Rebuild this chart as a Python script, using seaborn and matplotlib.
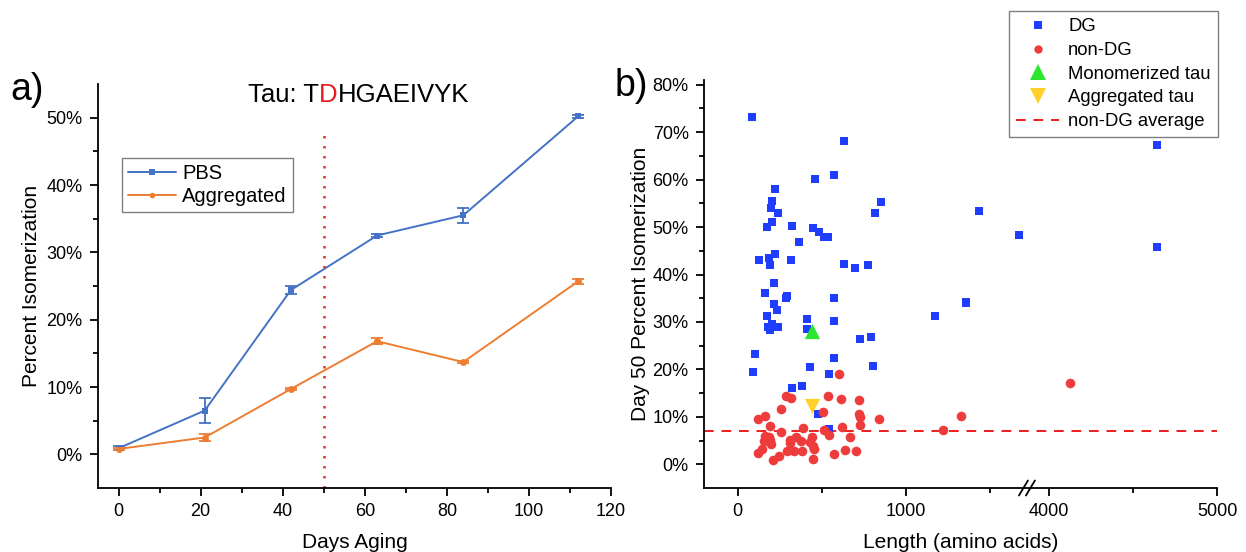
import numpy as np
import matplotlib
matplotlib.use("Agg")
import matplotlib.pyplot as plt
from matplotlib.ticker import PercentFormatter, FixedLocator, MultipleLocator, FuncFormatter
from matplotlib.lines import Line2D
import seaborn as sns

# ---- panel a) data ----
days = [0, 21, 42, 63, 84, 112]
pbs = [0.9, 6.5, 24.4, 32.5, 35.5, 50.2]
pbs_err = [0.3, 1.9, 0.6, 0.2, 1.1, 0.2]
agg = [0.8, 2.5, 9.7, 16.8, 13.7, 25.7]
agg_err = [0.2, 0.55, 0.2, 0.45, 0.2, 0.35]
cutoff_day = 50

# ---- panel b) data ----
dg_len = [83, 631, 460, 571, 220, 202, 196, 240, 855, 819, 204, 175, 323, 448, 482,
          512, 540, 367, 129, 186, 190, 222, 315, 631, 700, 778, 214, 165, 294, 290,
          571, 214, 236, 175, 413, 571, 1174, 202, 180, 242, 192, 413, 729, 794, 101,
          571, 802, 91, 429, 546, 321, 383, 478, 546, 1433, 1673, 1357, 1357, 4645, 4645]
dg_iso = [73.3, 68.1, 60.1, 61.0, 58.0, 55.5, 54.1, 53.0, 55.3, 53.0, 51.0, 50.1, 50.2, 49.7, 48.9,
          48.0, 47.9, 46.9, 43.0, 43.5, 42.1, 44.4, 43.0, 42.2, 41.4, 42.1, 38.2, 36.0, 35.5, 35.1,
          35.0, 33.8, 32.5, 31.2, 30.7, 30.2, 31.2, 29.5, 29.0, 29.0, 28.3, 28.6, 26.5, 26.8, 23.3,
          22.5, 20.8, 19.4, 20.6, 19.1, 16.0, 16.4, 10.7, 7.4, 53.4, 48.3, 34.3, 33.9, 67.4, 45.9]

ndg_len = [605, 286, 320, 538, 615, 720, 260, 508, 722, 728, 843, 121, 165, 195, 728,
           258, 391, 512, 546, 621, 671, 1222, 1330, 4127, 163, 155, 192, 186, 196, 147,
           121, 208, 246, 314, 311, 349, 379, 442, 429, 448, 452, 296, 335, 385, 448,
           573, 641, 706]
ndg_iso = [19.1, 14.4, 13.9, 14.3, 13.8, 13.5, 11.7, 11.1, 10.5, 9.9, 9.6, 9.5, 10.1, 8.0, 8.2,
           6.8, 7.7, 7.2, 6.2, 7.9, 5.7, 7.3, 10.1, 17.1, 6.0, 5.0, 5.1, 5.8, 4.2, 3.2,
           2.3, 0.8, 1.8, 5.2, 4.4, 5.8, 4.9, 5.8, 4.7, 3.9, 3.2, 2.9, 2.9, 2.9, 1.2,
           2.2, 3.1, 2.7]

mono_tau = (440, 28.1)
agg_tau = (440, 12.2)
ndg_avg = 7.1

# broken x axis: 1720 .. 3870 is cut out
BRK_LO, BRK_HI = 1720, 3870


def fwd(x):
    x = np.asarray(x, dtype=float)
    return np.where(x <= BRK_LO, x, np.where(x >= BRK_HI, x - (BRK_HI - BRK_LO), BRK_LO))


def inv(x):
    x = np.asarray(x, dtype=float)
    return np.where(x <= BRK_LO, x, x + (BRK_HI - BRK_LO))


sns.set_style("ticks")
plt.rcParams['font.family'] = ['Liberation Sans', 'DejaVu Sans']
plt.rcParams['axes.linewidth'] = 1.3
for key in ('text.color', 'axes.labelcolor', 'xtick.color', 'ytick.color', 'axes.edgecolor'):
    plt.rcParams[key] = 'black'

c_pbs = '#4472C4'
c_agg = '#ED7D31'
c_dg = '#1F3DFF'
c_ndg = '#EE3B3B'
c_mono = '#2EE62E'
c_aggtau = '#FFD12A'

fig = plt.figure(figsize=(12.46, 5.52), dpi=100)
W, H = 1246, 552
ax1 = fig.add_axes([98 / W, 1 - 488 / H, 513 / W, 404 / H])
ax2 = fig.add_axes([704 / W, 1 - 488 / H, 513 / W, 408 / H])

# ---------------- panel a ----------------
sns.lineplot(x=days, y=pbs, ax=ax1, color=c_pbs, marker='s', markersize=5,
             markeredgewidth=0, linewidth=1.4, errorbar=None)
sns.lineplot(x=days, y=agg, ax=ax1, color=c_agg, marker='o', markersize=5,
             markeredgewidth=0, linewidth=1.4, errorbar=None)
ax1.errorbar(days, pbs, yerr=pbs_err, fmt='none', ecolor=c_pbs, capsize=4, elinewidth=1.3, capthick=1.3)
ax1.errorbar(days, agg, yerr=agg_err, fmt='none', ecolor=c_agg, capsize=4, elinewidth=1.3, capthick=1.3)
ax1.vlines(cutoff_day, -5, 47.5, colors='#E8332F', linestyles=(0, (1, 3)), linewidth=1.8)

ax1.set_xlim(-5, 120)
ax1.set_ylim(-5, 55)
ax1.xaxis.set_major_locator(MultipleLocator(20))
ax1.xaxis.set_minor_locator(MultipleLocator(10))
ax1.yaxis.set_major_locator(FixedLocator([0, 10, 20, 30, 40, 50]))
ax1.yaxis.set_minor_locator(FixedLocator([5, 15, 25, 35, 45]))
ax1.yaxis.set_major_formatter(PercentFormatter(decimals=0))
ax1.set_xlabel('Days Aging', fontsize=15, labelpad=9)
ax1.set_ylabel('Percent Isomerization', fontsize=15, labelpad=4)

h_pbs = Line2D([], [], color=c_pbs, marker='s', markersize=4, markeredgewidth=0, linewidth=1.4)
h_agg = Line2D([], [], color=c_agg, marker='o', markersize=4, markeredgewidth=0, linewidth=1.4)
ax1.legend([h_pbs, h_agg], ['PBS', 'Aggregated'], loc='upper left',
           bbox_to_anchor=((122 - 98) / 513, (488 - 158) / 404), fontsize=14.5,
           frameon=True, fancybox=False, edgecolor='#7f7f7f', framealpha=1,
           handlelength=2.4, handletextpad=0.3, borderpad=0.3, labelspacing=0.18,
           borderaxespad=0)

# title with red D
t1 = ax1.text((248 - 98) / 513, (488 - 102) / 404, 'Tau: T', transform=ax1.transAxes,
              fontsize=18.5, ha='left', va='baseline')
t2 = ax1.annotate('D', xy=(1, 0), xycoords=t1, fontsize=18.5, color='#E81A1A',
                  ha='left', va='bottom')
ax1.annotate('HGAEIVYK', xy=(1, 0), xycoords=t2, fontsize=18.5, ha='left', va='bottom')

# ---------------- panel b ----------------
ax2.set_xscale('function', functions=(fwd, inv))
sns.scatterplot(x=dg_len, y=dg_iso, ax=ax2, marker='s', color=c_dg, s=34, linewidth=0, zorder=3)
sns.scatterplot(x=ndg_len, y=ndg_iso, ax=ax2, marker='o', color=c_ndg, s=48, linewidth=0, zorder=3)
sns.scatterplot(x=[mono_tau[0]], y=[mono_tau[1]], ax=ax2, marker='^', color=c_mono, s=120,
                linewidth=0, zorder=4)
sns.scatterplot(x=[agg_tau[0]], y=[agg_tau[1]], ax=ax2, marker='v', color=c_aggtau, s=120,
                linewidth=0, zorder=4)
ax2.axhline(ndg_avg, color='#EE1C1C', linestyle=(0, (5, 4)), linewidth=1.4, zorder=2)

ax2.set_xlim(-200, 5000)
ax2.set_ylim(-5, 81)
ax2.xaxis.set_major_locator(FixedLocator([0, 1000, 4000, 5000]))
ax2.xaxis.set_minor_locator(FixedLocator([500, 1500, 4500]))
ax2.xaxis.set_major_formatter(FuncFormatter(lambda v, p: f'{v:.0f}'))
ax2.yaxis.set_major_locator(FixedLocator(list(range(0, 81, 10))))
ax2.yaxis.set_minor_locator(FixedLocator(list(range(5, 80, 10))))
ax2.yaxis.set_major_formatter(PercentFormatter(decimals=0))
ax2.set_xlabel('Length (amino acids)', fontsize=15, labelpad=9)
ax2.set_ylabel('Day 50 Percent Isomerization', fontsize=15, labelpad=2)

# break marks on the x axis
span = fwd(5000) - fwd(-200)
xb = float((fwd(BRK_LO) - fwd(-200)) / span)
for dx in (-3.5, 3.5):
    xc = xb + dx / 513
    ax2.plot([xc - 4.5 / 513, xc + 4.5 / 513], [-7.5 / 408, 7.5 / 408], transform=ax2.transAxes,
             color='black', linewidth=1.3, clip_on=False, zorder=5)

legend_handles = [
    Line2D([], [], linestyle='none', marker='s', color=c_dg, markersize=6, markeredgewidth=0),
    Line2D([], [], linestyle='none', marker='o', color=c_ndg, markersize=6, markeredgewidth=0),
    Line2D([], [], linestyle='none', marker='^', color=c_mono, markersize=11, markeredgewidth=0),
    Line2D([], [], linestyle='none', marker='v', color=c_aggtau, markersize=11, markeredgewidth=0),
    Line2D([], [], color='#EE1C1C', linestyle=(0, (5, 4)), linewidth=1.4),
]
fig.legend(legend_handles, ['DG', 'non-DG', 'Monomerized tau', 'Aggregated tau', 'non-DG average'],
           loc='upper left', bbox_to_anchor=(1009 / W, 1 - 11 / H), fontsize=13.3,
           frameon=True, fancybox=False, edgecolor='#7f7f7f', framealpha=1,
           handlelength=2.3, handletextpad=0.5, borderpad=0.4, labelspacing=0.36,
           borderaxespad=0)

for ax in (ax1, ax2):
    sns.despine(ax=ax)
    ax.tick_params(which='major', direction='out', length=6, width=1.3, labelsize=13, pad=5)
    ax.tick_params(which='minor', direction='out', length=3.5, width=1.3)

fig.text(10 / W, 1 - 100 / H, 'a)', fontsize=27, ha='left', va='baseline')
fig.text(615 / W, 1 - 96 / H, 'b)', fontsize=27, ha='left', va='baseline')

fig.savefig('out.png', dpi=100)
